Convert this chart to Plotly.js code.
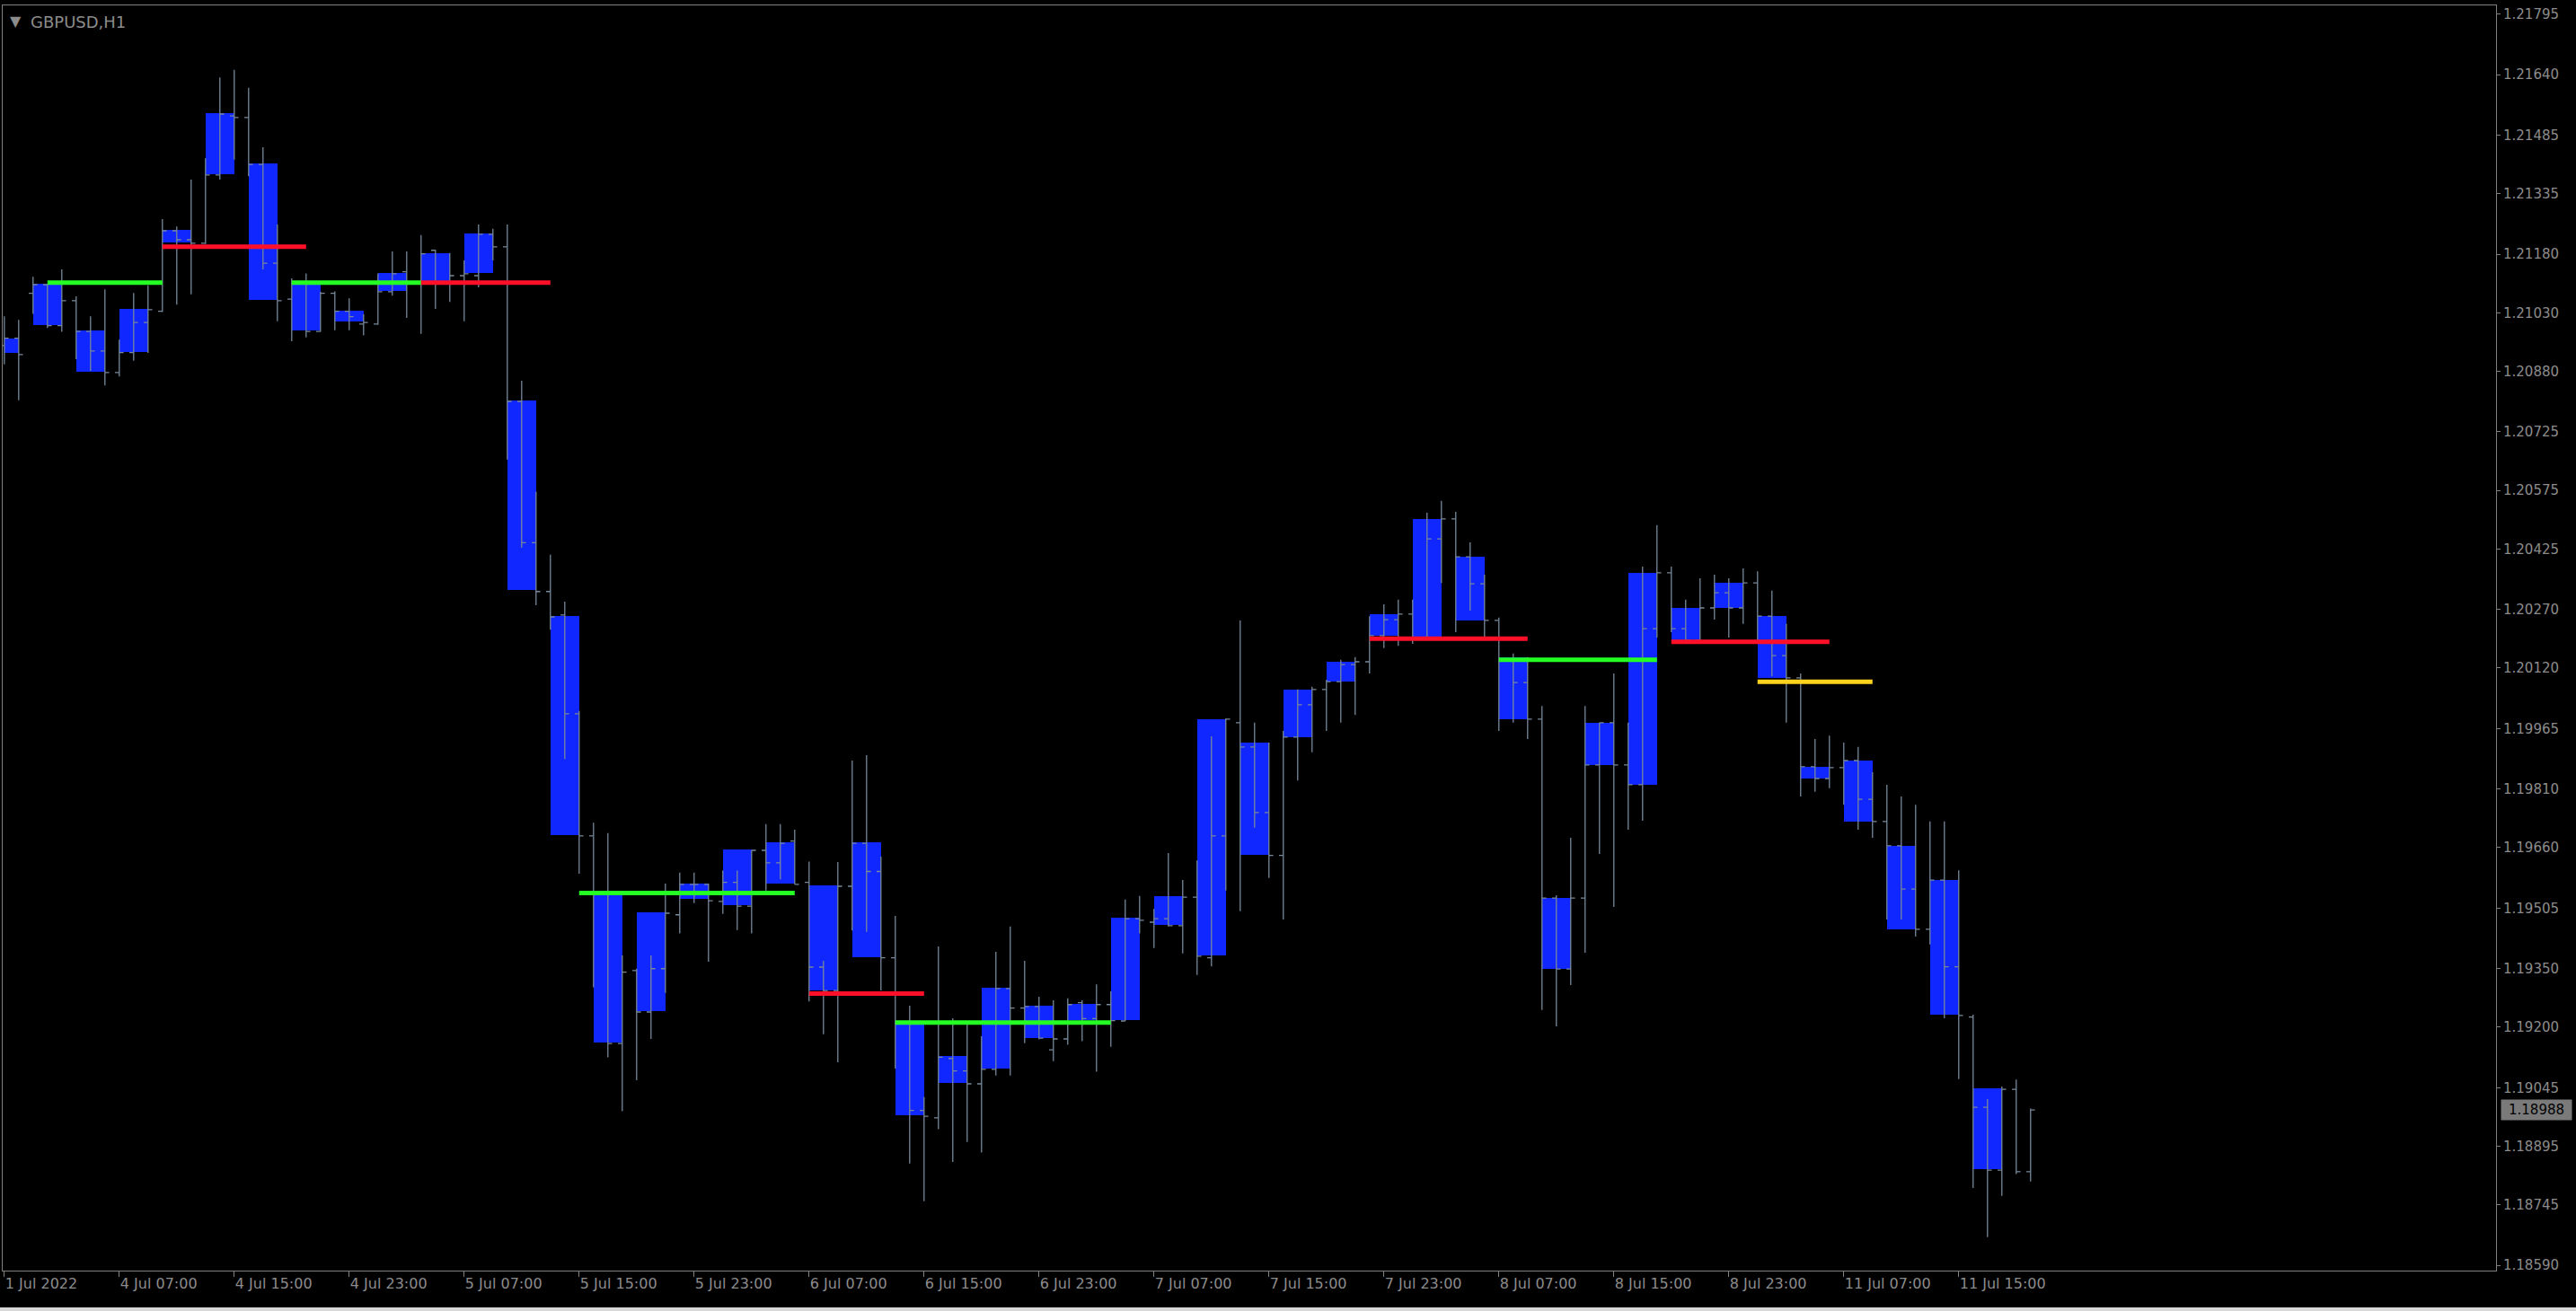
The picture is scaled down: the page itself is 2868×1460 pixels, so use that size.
<!DOCTYPE html>
<html>
<head>
<meta charset="utf-8">
<script src="https://cdn.plot.ly/plotly-3.0.1.min.js"></script>
<style>
html,body{margin:0;padding:0;background:#000;overflow:hidden;}
#chart{width:2868px;height:1460px;}
</style>
</head>
<body>
<div id="chart"></div>
<script>
// ---------------- DATA ----------------
const symbolTitle = 'GBPUSD,H1';
const lastPrice = 1.18988;

const timeTickIndex = [0, 8, 16, 24, 32, 40, 48, 56, 64, 72, 80, 88, 96, 104, 112, 120, 128, 136];
const timeTickLabels = ['1 Jul 2022', '4 Jul 07:00', '4 Jul 15:00', '4 Jul 23:00', '5 Jul 07:00', '5 Jul 15:00',
  '5 Jul 23:00', '6 Jul 07:00', '6 Jul 15:00', '6 Jul 23:00', '7 Jul 07:00', '7 Jul 15:00', '7 Jul 23:00',
  '8 Jul 07:00', '8 Jul 15:00', '8 Jul 23:00', '11 Jul 07:00', '11 Jul 15:00'];

const priceTickLabels = ['1.21795', '1.21640', '1.21485', '1.21335', '1.21180', '1.21030', '1.20880', '1.20725',
  '1.20575', '1.20425', '1.20270', '1.20120', '1.19965', '1.19810', '1.19660', '1.19505', '1.19350', '1.19200',
  '1.19045', '1.18895', '1.18745', '1.18590'];

// H1 bars (index 0 = first bar on the chart)
const barOpen = [
  1.20946, 1.20965, 1.21080, 1.21102, 1.20997, 1.21061, 1.20982, 1.20932, 1.20877, 1.20928,
  1.21005, 1.21034, 1.21240, 1.21217, 1.21208, 1.21383, 1.21534, 1.21530, 1.21410, 1.21157,
  1.21065, 1.21107, 1.20982, 1.21080, 1.21034, 1.21001, 1.21001, 1.21084, 1.21135, 1.21107,
  1.21190, 1.21109, 1.21125, 1.21125, 1.21231, 1.21199, 1.20803, 1.20441, 1.20316, 1.20256,
  1.20003, 1.19690, 1.19545, 1.19158, 1.19345, 1.19239, 1.19350, 1.19488, 1.19566, 1.19566,
  1.19522, 1.19571, 1.19510, 1.19653, 1.19621, 1.19677, 1.19571, 1.19354, 1.19294, 1.19561,
  1.19671, 1.19599, 1.19378, 1.19209, 1.18987, 1.18968, 1.19120, 1.19088, 1.19055, 1.19092,
  1.19299, 1.19249, 1.19253, 1.19142, 1.19170, 1.19263, 1.19222, 1.19258, 1.19216, 1.19478,
  1.19469, 1.19478, 1.19460, 1.19533, 1.19378, 1.19690, 1.19980, 1.19918, 1.19750, 1.19640,
  1.19943, 1.20026, 1.20065, 1.20085, 1.20129, 1.20136, 1.20203, 1.20244, 1.20258, 1.20198,
  1.20451, 1.20502, 1.20405, 1.20336, 1.20242, 1.20141, 1.20083, 1.19989, 1.19531, 1.19349,
  1.19531, 1.19872, 1.19980, 1.19872, 1.19821, 1.20221, 1.20364, 1.20221, 1.20191, 1.20274,
  1.20313, 1.20274, 1.20338, 1.20253, 1.20152, 1.20095, 1.19867, 1.19837, 1.19865, 1.19883,
  1.19784, 1.19727, 1.19665, 1.19554, 1.19451, 1.19577, 1.19355, 1.19226, 1.18995, 1.18834,
  1.19041, 1.18830];
const barHigh = [
  1.21021, 1.21012, 1.21122, 1.21104, 1.21141, 1.21072, 1.21021, 1.21090, 1.20961, 1.21081,
  1.21100, 1.21270, 1.21251, 1.21371, 1.21426, 1.21633, 1.21652, 1.21606, 1.21454, 1.21256,
  1.21118, 1.21131, 1.21084, 1.21085, 1.21067, 1.21026, 1.21131, 1.21187, 1.21187, 1.21229,
  1.21191, 1.21183, 1.21164, 1.21256, 1.21245, 1.21256, 1.20856, 1.20571, 1.20410, 1.20290,
  1.20010, 1.19724, 1.19697, 1.19384, 1.19350, 1.19384, 1.19568, 1.19596, 1.19596, 1.19568,
  1.19601, 1.19601, 1.19653, 1.19720, 1.19720, 1.19706, 1.19624, 1.19370, 1.19623, 1.19883,
  1.19897, 1.19637, 1.19485, 1.19255, 1.19021, 1.19407, 1.19223, 1.19208, 1.19177, 1.19393,
  1.19458, 1.19370, 1.19278, 1.19269, 1.19274, 1.19269, 1.19310, 1.19292, 1.19527, 1.19536,
  1.19503, 1.19646, 1.19577, 1.19627, 1.19945, 1.19991, 1.20242, 1.19980, 1.19929, 1.19959,
  1.20065, 1.20072, 1.20090, 1.20141, 1.20148, 1.20253, 1.20283, 1.20295, 1.20295, 1.20518,
  1.20548, 1.20520, 1.20442, 1.20359, 1.20249, 1.20157, 1.20148, 1.20023, 1.19538, 1.19685,
  1.20023, 1.19980, 1.20106, 1.19980, 1.20380, 1.20486, 1.20380, 1.20295, 1.20350, 1.20359,
  1.20350, 1.20375, 1.20368, 1.20318, 1.20233, 1.20106, 1.19938, 1.19947, 1.19929, 1.19918,
  1.19853, 1.19821, 1.19791, 1.19770, 1.19727, 1.19727, 1.19602, 1.19232, 1.19016, 1.19048,
  1.19066, 1.18992];
const barLow = [
  1.20898, 1.20806, 1.21027, 1.20991, 1.20981, 1.20911, 1.20881, 1.20844, 1.20867, 1.20907,
  1.20927, 1.21032, 1.21051, 1.21077, 1.21206, 1.21371, 1.21422, 1.21380, 1.21141, 1.21008,
  1.20957, 1.20967, 1.20981, 1.20985, 1.20985, 1.20972, 1.20999, 1.21074, 1.21017, 1.20976,
  1.21040, 1.21058, 1.21008, 1.21095, 1.21164, 1.20654, 1.20428, 1.20281, 1.20218, 1.19887,
  1.19593, 1.19302, 1.19123, 1.18985, 1.19064, 1.19170, 1.19288, 1.19440, 1.19518, 1.19368,
  1.19490, 1.19449, 1.19440, 1.19550, 1.19579, 1.19566, 1.19266, 1.19182, 1.19110, 1.19448,
  1.19444, 1.19294, 1.19094, 1.18851, 1.18754, 1.18939, 1.18855, 1.18906, 1.18879, 1.19076,
  1.19076, 1.19159, 1.19169, 1.19113, 1.19155, 1.19164, 1.19086, 1.19150, 1.19216, 1.19440,
  1.19403, 1.19458, 1.19389, 1.19334, 1.19356, 1.19550, 1.19497, 1.19711, 1.19582, 1.19476,
  1.19832, 1.19904, 1.19959, 1.19980, 1.20000, 1.20106, 1.20171, 1.20177, 1.20182, 1.20191,
  1.20338, 1.20212, 1.20267, 1.20198, 1.19959, 1.19980, 1.19938, 1.19244, 1.19202, 1.19308,
  1.19391, 1.19644, 1.19508, 1.19706, 1.19729, 1.20198, 1.20212, 1.20182, 1.20182, 1.20244,
  1.20198, 1.20233, 1.20191, 1.20099, 1.19980, 1.19791, 1.19803, 1.19812, 1.19770, 1.19706,
  1.19685, 1.19476, 1.19476, 1.19432, 1.19412, 1.19223, 1.19067, 1.18788, 1.18662, 1.18768,
  1.18824, 1.18805];
const barClose = [
  1.20965, 1.20923, 1.21102, 1.20997, 1.21061, 1.20982, 1.20932, 1.20877, 1.20928, 1.21005,
  1.21038, 1.21240, 1.21217, 1.21208, 1.21383, 1.21539, 1.21530, 1.21410, 1.21157, 1.21061,
  1.21107, 1.20982, 1.21080, 1.21034, 1.21020, 1.21005, 1.21084, 1.21130, 1.21107, 1.21181,
  1.21109, 1.21125, 1.21130, 1.21231, 1.21199, 1.20803, 1.20441, 1.20316, 1.20251, 1.20003,
  1.19690, 1.19545, 1.19158, 1.19341, 1.19239, 1.19350, 1.19492, 1.19566, 1.19566, 1.19524,
  1.19571, 1.19510, 1.19653, 1.19621, 1.19671, 1.19566, 1.19354, 1.19294, 1.19561, 1.19671,
  1.19599, 1.19378, 1.19209, 1.18987, 1.18972, 1.19123, 1.19088, 1.19055, 1.19092, 1.19299,
  1.19249, 1.19253, 1.19172, 1.19170, 1.19258, 1.19222, 1.19258, 1.19217, 1.19478, 1.19474,
  1.19478, 1.19460, 1.19533, 1.19382, 1.19690, 1.19989, 1.19918, 1.19750, 1.19640, 1.19943,
  1.20026, 1.20065, 1.20085, 1.20129, 1.20136, 1.20203, 1.20244, 1.20258, 1.20198, 1.20451,
  1.20502, 1.20405, 1.20336, 1.20242, 1.20141, 1.20083, 1.19989, 1.19531, 1.19349, 1.19531,
  1.19872, 1.19980, 1.19872, 1.19821, 1.20221, 1.20364, 1.20221, 1.20191, 1.20274, 1.20313,
  1.20274, 1.20338, 1.20253, 1.20152, 1.20095, 1.19867, 1.19837, 1.19865, 1.19883, 1.19784,
  1.19727, 1.19665, 1.19554, 1.19451, 1.19577, 1.19355, 1.19230, 1.18995, 1.18834, 1.19041,
  1.18830, 1.18988];

// Blue blocks (3-bar groups): first bar index, last bar index, top and bottom price
const boxStart = [0, 2, 5, 8, 11, 14, 17, 20, 23, 26, 29, 32, 35, 38, 41, 44, 47, 50, 53, 56, 59, 62, 65, 68,
  71, 74, 77, 80, 83, 86, 89, 92, 95, 98, 101, 104, 107, 110, 113, 116, 119, 122, 125, 128, 131, 134, 137];
const boxEnd = [1, 4, 7, 10, 13, 16, 19, 22, 25, 28, 31, 34, 37, 40, 43, 46, 49, 52, 55, 58, 61, 64, 67, 70,
  73, 76, 79, 82, 85, 88, 91, 94, 97, 100, 103, 106, 109, 112, 115, 118, 121, 124, 127, 130, 133, 136, 139];
const boxTop = [1.20965, 1.21104, 1.20985, 1.21040, 1.21242, 1.21541, 1.21413, 1.21103, 1.21035, 1.21132,
  1.21183, 1.21233, 1.20805, 1.20254, 1.19541, 1.19495, 1.19568, 1.19655, 1.19674, 1.19563, 1.19673,
  1.19208, 1.19126, 1.19301, 1.19255, 1.19260, 1.19481, 1.19536, 1.19989, 1.19929, 1.20065, 1.20136,
  1.20258, 1.20502, 1.20405, 1.20148, 1.19531, 1.19980, 1.20364, 1.20274, 1.20338, 1.20253, 1.19867,
  1.19883, 1.19665, 1.19577, 1.19043];
const boxBottom = [1.20927, 1.20999, 1.20879, 1.20930, 1.21210, 1.21385, 1.21063, 1.20984, 1.21008, 1.21086,
  1.21111, 1.21132, 1.20320, 1.19693, 1.19160, 1.19242, 1.19528, 1.19513, 1.19568, 1.19294, 1.19380,
  1.18975, 1.19058, 1.19095, 1.19172, 1.19219, 1.19218, 1.19462, 1.19384, 1.19642, 1.19943, 1.20085,
  1.20203, 1.20198, 1.20242, 1.19989, 1.19349, 1.19872, 1.19821, 1.20191, 1.20274, 1.20095, 1.19837,
  1.19727, 1.19451, 1.19232, 1.18837];

// Horizontal level segments
const levelStart = [3, 11, 20, 29, 40, 56, 62, 95, 104, 116, 122];
const levelEnd = [11, 21, 29, 38, 55, 64, 77, 106, 115, 127, 130];
const levelPrice = [1.21107, 1.21199, 1.21107, 1.21107, 1.19544, 1.19286, 1.19212, 1.20195, 1.20141, 1.20187, 1.20085];
const levelKind = ['support', 'resistance', 'support', 'resistance', 'support', 'resistance', 'support',
  'resistance', 'support', 'resistance', 'pivot'];

// ---------------- STYLE ----------------
const FG = '#808080';
const TXT = '#8c8c8c';
const FONT = 'DejaVu Sans, Liberation Sans, sans-serif';
const kindColor = {support: '#24FF24', resistance: '#FF1028', pivot: '#FFD21E'};

// ---------------- TRACES ----------------
const traces = [];

traces.push({
  type: 'bar',
  x: boxStart.map((s, i) => (s + boxEnd[i]) / 2),
  width: boxStart.map((s, i) => boxEnd[i] - s),
  base: boxBottom,
  y: boxTop.map((t, i) => t - boxBottom[i]),
  marker: {color: '#1027FF', line: {width: 0}},
  hoverinfo: 'skip'
});

traces.push({
  type: 'ohlc',
  x: barOpen.map((_, i) => i),
  open: barOpen, high: barHigh, low: barLow, close: barClose,
  tickwidth: 0.3,
  increasing: {line: {color: '#778899', width: 1.3}},
  decreasing: {line: {color: '#778899', width: 1.3}},
  hoverinfo: 'skip'
});

levelStart.forEach((s, i) => {
  traces.push({
    type: 'scatter', mode: 'lines',
    x: [s, levelEnd[i]], y: [levelPrice[i], levelPrice[i]],
    line: {color: kindColor[levelKind[i]], width: 5},
    hoverinfo: 'skip'
  });
});

// ---------------- LAYOUT ----------------
const layout = {
  width: 2868, height: 1460,
  margin: {l: 3, r: 89, t: 6, b: 45, pad: 0},
  paper_bgcolor: '#000', plot_bgcolor: '#000',
  showlegend: false,
  bargap: 0,
  xaxis: {
    range: [-0.1125, 173.39],
    tickmode: 'array', tickvals: timeTickIndex, ticktext: timeTickLabels,
    ticks: 'outside', ticklen: 6, tickwidth: 1, tickcolor: FG,
    ticklabelposition: 'outside right',
    tickfont: {family: FONT, size: 16, color: TXT},
    showgrid: false, zeroline: false,
    showline: true, mirror: true, linecolor: FG, linewidth: 1,
    rangeslider: {visible: false},
    fixedrange: true
  },
  yaxis: {
    side: 'right',
    range: [1.185766, 1.218173],
    tickmode: 'array', tickvals: priceTickLabels.map(Number), ticktext: priceTickLabels,
    ticks: 'outside', ticklen: 4, tickwidth: 1, tickcolor: FG,
    tickfont: {family: FONT, size: 15, color: TXT},
    showgrid: false, zeroline: false,
    showline: true, mirror: true, linecolor: FG, linewidth: 1,
    fixedrange: true
  },
  annotations: [
    {xref: 'paper', yref: 'paper', x: 0, y: 1, xshift: 14, yshift: -17, xanchor: 'center', yanchor: 'middle',
     text: '▼', showarrow: false, font: {family: FONT, size: 16, color: TXT}},
    {xref: 'paper', yref: 'paper', x: 0, y: 1, xshift: 29, yshift: -18, xanchor: 'left', yanchor: 'middle',
     text: symbolTitle, showarrow: false, font: {family: FONT, size: 18, color: TXT}},
    {xref: 'paper', yref: 'y', x: 1, y: lastPrice, xshift: 5, xanchor: 'left', yanchor: 'middle',
     text: lastPrice.toFixed(5), showarrow: false, bgcolor: '#7a7a7a', width: 78, height: 22, borderpad: 0,
     font: {family: FONT, size: 15, color: '#000'}}
  ],
  shapes: [
    {type: 'rect', xref: 'paper', yref: 'paper', x0: -0.01, x1: 1.04, y0: -0.0291, y1: -0.04,
     fillcolor: '#d8d8d8', line: {width: 0}, layer: 'above'}
  ]
};

Plotly.newPlot('chart', traces, layout, {staticPlot: true, displayModeBar: false});
</script>
</body>
</html>
